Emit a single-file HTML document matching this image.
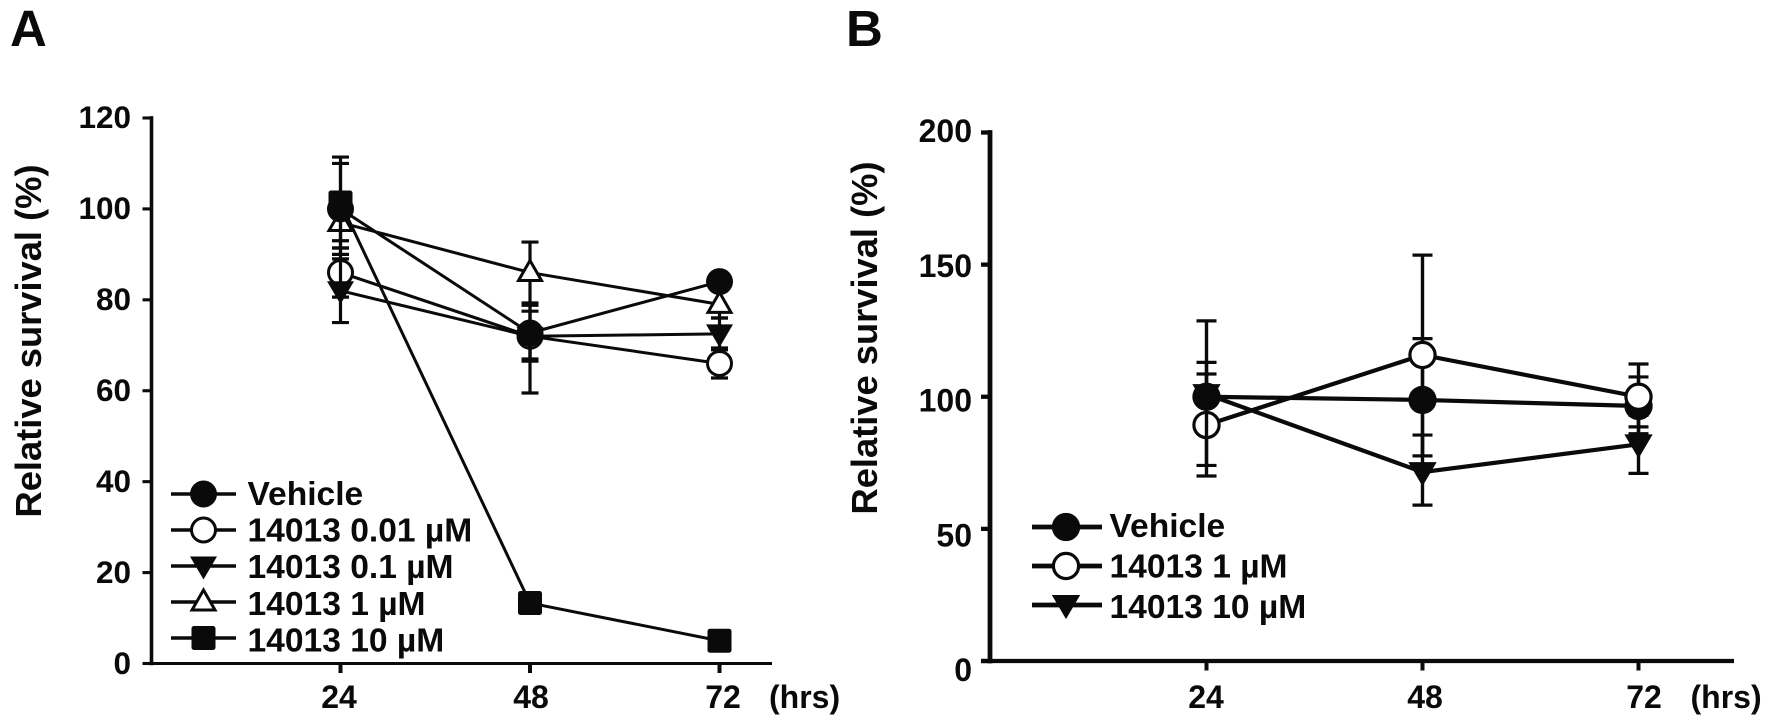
<!DOCTYPE html>
<html lang="en">
<head>
<meta charset="utf-8">
<title>Relative survival charts</title>
<style>
html,body{margin:0;padding:0;background:#fff;}
body{width:1772px;height:726px;overflow:hidden;}
svg{display:block;filter:blur(0.35px);}
text{font-family:"Liberation Sans",sans-serif;font-weight:bold;fill:#0a0a0a;}
</style>
</head>
<body>
<svg id="figure" xmlns="http://www.w3.org/2000/svg" width="1772" height="726" viewBox="0 0 1772 726">
<rect width="1772" height="726" fill="#fff"/>
</svg>
<script>
// ---------- shared categories ----------
const hours = [24, 48, 72];

// ---------- panel A data ----------
const yTicksA = [0, 20, 40, 60, 80, 100, 120];
const legendA = ["Vehicle", "14013 0.01 µM", "14013 0.1 µM", "14013 1 µM", "14013 10 µM"];
const markersA = ["circle", "open-circle", "down", "up", "square"];
const paintOrderA = [1, 3, 2, 0, 4];
const vehicleA = [100, 72.7, 84];
const vehicleAHi = [110, 79, 85];
const vehicleALo = [90, 67, 83];
const low001A = [86, 72, 66];
const low001AHi = [91.4, 77.5, 69];
const low001ALo = [80.6, 66.5, 62.8];
const low01A = [82, 72, 72.5];
const low01AHi = [89, 78.8, 76];
const low01ALo = [75, 59.5, 69.4];
const mid1A = [97, 86, 79];
const mid1AHi = [101, 92.7, 82];
const mid1ALo = [93, 79.3, 76];
const high10A = [101.4, 13.3, 5];
const high10AHi = [111.4, 13.3, 5];
const high10ALo = [91.4, 13.3, 5];

// ---------- panel B data ----------
const yTicksB = [0, 50, 100, 150, 200];
const legendB = ["Vehicle", "14013 1 µM", "14013 10 µM"];
const markersB = ["circle", "open-circle", "down"];
const paintOrderB = [0, 1, 2];
const vehicleB = [100, 98.8, 96.5];
const vehicleBHi = [113, 122, 107.5];
const vehicleBLo = [87, 77.6, 86];
const mid1B = [89.3, 115.8, 100];
const mid1BHi = [108.6, 153.6, 112.4];
const mid1BLo = [70, 77.6, 88.6];
const high10B = [101, 71.5, 82];
const high10BHi = [128.7, 85.5, 93];
const high10BLo = [74, 59, 71];

const seriesA = [
  [vehicleA, vehicleAHi, vehicleALo],
  [low001A, low001AHi, low001ALo],
  [low01A, low01AHi, low01ALo],
  [mid1A, mid1AHi, mid1ALo],
  [high10A, high10AHi, high10ALo]
];
const seriesB = [
  [vehicleB, vehicleBHi, vehicleBLo],
  [mid1B, mid1BHi, mid1BLo],
  [high10B, high10BHi, high10BLo]
];

const INK = "#0a0a0a";
const root = document.getElementById("figure");

function shape(tag, parent, props) {
  const el = document.createElementNS("http://www.w3.org/2000/svg", tag);
  for (const k in props) el.setAttribute(k, props[k]);
  parent.appendChild(el);
  return el;
}

function group(parent, name) {
  const el = shape("g", parent, {});
  
  
  return el;
}

function label(parent, str, x, y, size, anchor, name) {
  const el = shape("text", parent, {x: x, y: y, "font-size": size, "text-anchor": anchor});
  el.textContent = str;
  
  
  return el;
}

function segment(parent, x1, y1, x2, y2, w, name) {
  const el = shape("line", parent, {x1: x1, y1: y1, x2: x2, y2: y2, stroke: INK, "stroke-width": w});
  
  
  return el;
}

function marker(parent, kind, x, y, k, sw, name) {
  let el;
  if (kind === "circle") {
    el = shape("circle", parent, {cx: x, cy: y, r: 13.5 * k, fill: INK});
  } else if (kind === "open-circle") {
    el = shape("circle", parent, {cx: x, cy: y, r: 12 * k, fill: "#fff", stroke: INK, "stroke-width": sw});
  } else if (kind === "down") {
    const hw = 13.5 * k;
    el = shape("polygon", parent, {points: (x - hw) + "," + (y - 9.5 * k) + " " + (x + hw) + "," + (y - 9.5 * k) + " " + x + "," + (y + 13.5 * k), fill: INK});
  } else if (kind === "up") {
    const hw = 11.5 * k;
    el = shape("polygon", parent, {points: (x - hw) + "," + (y + 8 * k) + " " + (x + hw) + "," + (y + 8 * k) + " " + x + "," + (y - 12 * k), fill: "#fff", stroke: INK, "stroke-width": sw});
  } else {
    el = shape("rect", parent, {x: x - 12, y: y - 12, width: 24, height: 24, rx: 2.5, fill: INK});
  }
  
  
  return el;
}

function drawPanel(p) {
  const g = group(root, "panel-" + p.id);
  label(g, p.id.toUpperCase(), p.letterX, 46, 51, "start", "panel-letter-" + p.id);

  // axes
  const axes = group(g, "axes-" + p.id);
  segment(axes, p.axisX, p.y(p.yMax) - p.axisW / 2, p.axisX, p.y(0) + p.axisW / 2, p.axisW, "y-axis-" + p.id);
  segment(axes, p.axisX - 9, p.y(0), p.axisEnd, p.y(0), p.axisW - 0.5, "x-axis-" + p.id);
  p.yTicks.forEach(function (v) {
    segment(axes, p.axisX - 9, p.y(v), p.axisX, p.y(v), p.axisW - 0.5, "y-tick-" + v);
    label(axes, String(v), p.yLabelRight, p.yLabel(v), p.tickFont, "end", "y-tick-label-" + v);
  });
  p.cats.forEach(function (c) {
    segment(axes, p.x(c), p.y(0), p.x(c), p.y(0) + 9.5, 4, "x-tick-" + c);
    label(axes, String(c), p.xLabel(c), 708, 32, "middle", "x-tick-label-" + c);
  });
  label(axes, "(hrs)", p.hrsX, 708, 32, "start", "x-axis-unit-" + p.id);

  const title = label(axes, "Relative survival (%)", 0, 0, 36.3, "middle", "y-axis-title-" + p.id);
  title.setAttribute("transform", "translate(" + p.titleX + "," + p.titleY + ") rotate(-90)");

  // series
  p.order.forEach(function (i) {
    const s = p.series[i];
    const name = p.legend[i].toLowerCase().replace(/[^a-z0-9]+/g, "-") + "-" + p.id;
    const sg = group(g, "series-" + name);
    const pts = s[0].map(function (v, j) { return p.x(p.cats[j]) + "," + p.y(v); }).join(" ");
    const line = shape("polyline", sg, {points: pts, fill: "none", stroke: INK, "stroke-width": p.lineW});
    
    
    s[0].forEach(function (v, j) {
      const cx = p.x(p.cats[j]);
      const hi = s[1][j], lo = s[2][j];
      if (hi !== lo) {
        segment(sg, cx, p.y(hi), cx, p.y(lo), p.stemW, "error-bar");
        segment(sg, cx - p.capW, p.y(hi), cx + p.capW, p.y(hi), 3.2, "error-cap-upper");
        segment(sg, cx - p.capW, p.y(lo), cx + p.capW, p.y(lo), 3.2, "error-cap-lower");
      }
    });
    s[0].forEach(function (v, j) {
      marker(sg, p.markers[i], p.x(p.cats[j]), p.y(v), p.markerK, p.markerSW, "data-point");
    });
  });

  // legend
  const lg = group(g, "legend-" + p.id);
  p.legend.forEach(function (t, i) {
    const e = group(lg, "legend-entry");
    const ly = p.legendY + i * p.legendStep;
    segment(e, p.legendX1, ly, p.legendX2, ly, p.lineW + 0.5, "legend-line");
    marker(e, p.markers[i], (p.legendX1 + p.legendX2) / 2 + p.legendShift, ly, p.markerK, p.markerSW, "legend-marker");
    label(e, t, p.legendTextX, p.legendBase + i * p.legendTextStep, 33.6, "start", "legend-label");
  });
}

drawPanel({
  id: "a", letterX: 10, axisX: 151.5, axisEnd: 772, axisW: 3.6, yMax: 120,
  y: function (v) { return 663.5 - v * 4.546; },
  x: function (h) { return 340.5 + (h - 24) * 7.896; },
  yLabel: function (v) { return 674 - v * 4.55; },
  xLabel: function (h) { return 339 + (h - 24) * 8; },
  yLabelRight: 131, tickFont: 31.5, hrsX: 769, titleX: 41, titleY: 341,
  cats: hours, yTicks: yTicksA, series: seriesA, order: paintOrderA, markers: markersA, legend: legendA,
  lineW: 3, stemW: 3.2, capW: 8.5, markerK: 1, markerSW: 3,
  legendY: 494, legendStep: 36, legendX1: 171, legendX2: 236, legendShift: 0,
  legendTextX: 247.5, legendBase: 505, legendTextStep: 36.6
});

drawPanel({
  id: "b", letterX: 846, axisX: 990, axisEnd: 1734, axisW: 4.8, yMax: 200,
  y: function (v) { return 661 - v * 2.6425; },
  x: function (h) { return 1206.5 + (h - 24) * 9; },
  yLabel: function (v) { return 681 - v * 2.695; },
  xLabel: function (h) { return 1206 + (h - 24) * 9.125; },
  yLabelRight: 972, tickFont: 32, hrsX: 1690.5, titleX: 877, titleY: 338,
  cats: hours, yTicks: yTicksB, series: seriesB, order: paintOrderB, markers: markersB, legend: legendB,
  lineW: 4.2, stemW: 3.4, capW: 10, markerK: 1.05, markerSW: 3.2,
  legendY: 527, legendStep: 39, legendX1: 1032, legendX2: 1102, legendShift: -1,
  legendTextX: 1109.5, legendBase: 537, legendTextStep: 40.5
});
</script>
</body>
</html>
